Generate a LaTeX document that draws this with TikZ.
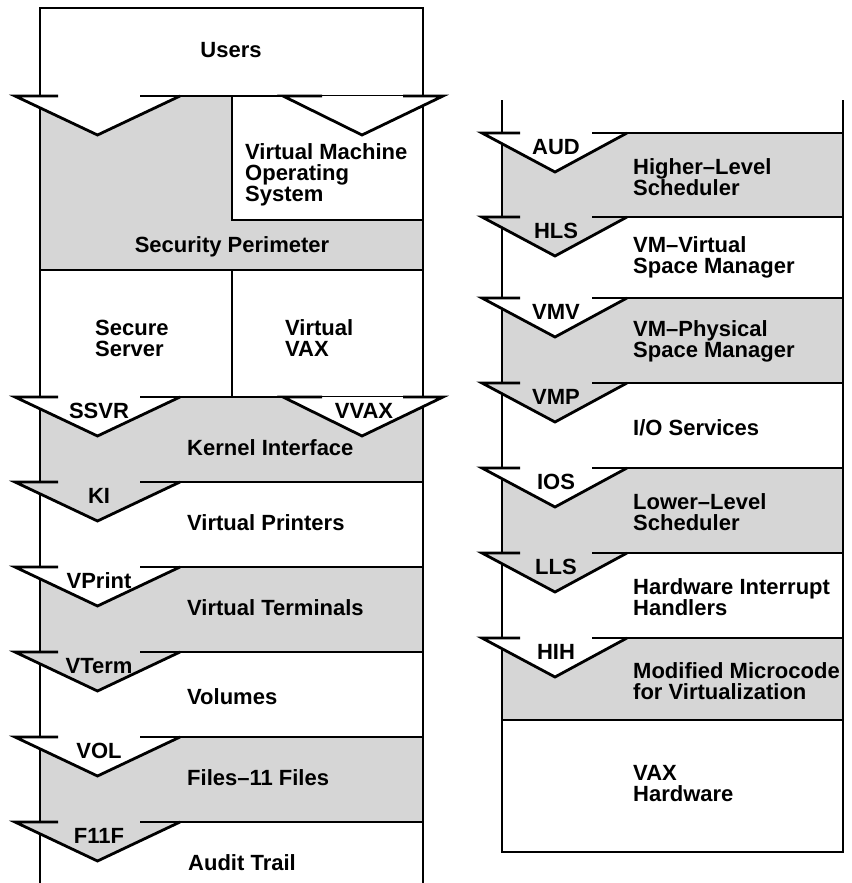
\documentclass[tikz,border=0pt]{standalone}
\usepackage{fontspec}
\setmainfont{Liberation Sans}
\definecolor{halftone}{gray}{0.84}
\tikzset{
  rule/.style={line width=2.8pt},
  layertext/.style={font=\bfseries\fontsize{22}{21}\selectfont, inner sep=0pt, align=left, anchor=west},
  iftag/.style={font=\bfseries\fontsize{22}{22}\selectfont, inner sep=0pt, anchor=base},
}
% Interface chevron at the left edge of the left stack.
% #1 = y of the layer boundary, #2 = colour of the layer above, #3 = node name, #4 = interface label
\newcommand\leftdrop[4]{%
  \fill[#2] (15,#1) -- (97.5,{#1+39}) -- (180,#1) -- cycle;
  \draw[rule] (58,#1) -- (15,#1) -- (97.5,{#1+39}) -- (180,#1);
  \draw[rule] (140,#1) -- (423,#1);
  \node[iftag] (#3) at (99,{#1+21}) {#4};
}
% Interface chevron at the right edge of the left stack (same arguments)
\newcommand\rightdrop[4]{%
  \fill[#2] (283,#1) -- (362,{#1+39}) -- (443,#1) -- cycle;
  \draw[rule] (322,#1) -- (283,#1) -- (362,{#1+39}) -- (443,#1) -- (403,#1);
  \node[iftag] (#3) at (364,{#1+21}) {#4};
}
% Interface chevron of the right stack (same arguments)
\newcommand\stackdrop[4]{%
  \fill[#2] (482,#1) -- (555,{#1+39}) -- (627,#1) -- cycle;
  \draw[rule] (520,#1) -- (482,#1) -- (555,{#1+39}) -- (627,#1);
  \draw[rule] (592,#1) -- (843,#1);
  \node[iftag] (#3) at (556,{#1+21}) {#4};
}
\begin{document}
\begin{tikzpicture}[x=1pt,y=-1pt]
\useasboundingbox (0,0) rectangle (851,883);

% ---------- left stack: shaded layers ----------
\fill[halftone] (40,96) -- (232,96) -- (232,220) -- (423,220) -- (423,270) -- (40,270) -- cycle;
\fill[halftone] (40,397) rectangle (423,482);
\fill[halftone] (40,567) rectangle (423,652);
\fill[halftone] (40,737) rectangle (423,822);

% ---------- left stack: frame ----------
\draw[rule] (40,883) -- (40,8) -- (423,8) -- (423,883);
\draw[rule] (232,96) -- (232,220) -- (423,220);
\draw[rule] (40,270) -- (423,270);
\draw[rule] (232,270) -- (232,397);

% ---------- left stack: interfaces ----------
\leftdrop{96}{white}{usrl}{}
\rightdrop{96}{white}{usrr}{}
\leftdrop{397}{white}{tssvr}{SSVR}
\rightdrop{397}{white}{tvvax}{VVAX}
\leftdrop{482}{halftone}{tki}{KI}
\leftdrop{567}{white}{tvprint}{VPrint}
\leftdrop{652}{halftone}{tvterm}{VTerm}
\leftdrop{737}{white}{tvol}{VOL}
\leftdrop{822}{halftone}{tf11f}{F11F}

% ---------- left stack: layer names ----------
\node[layertext, anchor=center] (users) at (231,50) {Users};
\node[layertext] (vmos) at (245,175) {Virtual Machine\\Operating\\System};
\node[layertext, anchor=center] (perimeter) at (232,247) {Security Perimeter};
\node[layertext] (server) at (95,338) {Secure\\Server};
\node[layertext] (virtvax) at (285,338) {Virtual\\VAX};
\node[layertext] (kernel) at (187,448) {Kernel Interface};
\node[layertext] (printers) at (187,523) {Virtual Printers};
\node[layertext] (terminals) at (187,608) {Virtual Terminals};
\node[layertext] (volumes) at (187,697) {Volumes};
\node[layertext] (files) at (187,778) {Files–11 Files};
\node[layertext] (audit) at (188,863) {Audit Trail};

% ---------- right stack: shaded layers ----------
\fill[halftone] (502,133) rectangle (843,217);
\fill[halftone] (502,298) rectangle (843,383);
\fill[halftone] (502,468) rectangle (843,553);
\fill[halftone] (502,638) rectangle (843,720);

% ---------- right stack: frame ----------
\draw[rule] (502,100) -- (502,852) -- (843,852) -- (843,100);
\draw[rule] (502,720) -- (843,720);

% ---------- right stack: interfaces ----------
\stackdrop{133}{white}{taud}{AUD}
\stackdrop{217}{halftone}{thls}{HLS}
\stackdrop{298}{white}{tvmv}{VMV}
\stackdrop{383}{halftone}{tvmp}{VMP}
\stackdrop{468}{white}{tios}{IOS}
\stackdrop{553}{halftone}{tlls}{LLS}
\stackdrop{638}{white}{thih}{HIH}

% ---------- right stack: layer names ----------
\node[layertext] (hls) at (633,177.5) {Higher–Level\\Scheduler};
\node[layertext] (vmvirt) at (633,257.5) {VM–Virtual\\Space Manager};
\node[layertext] (vmphys) at (633,341.5) {VM–Physical\\Space Manager};
\node[layertext] (ios) at (633,428) {I/O Services};
\node[layertext] (lls) at (633,512.5) {Lower–Level\\Scheduler};
\node[layertext] (hih) at (633,597.5) {Hardware Interrupt\\Handlers};
\node[layertext] (micro) at (633,681.5) {Modified Microcode\\for Virtualization};
\node[layertext] (hardware) at (633,784) {VAX\\Hardware};
\end{tikzpicture}
\end{document}
